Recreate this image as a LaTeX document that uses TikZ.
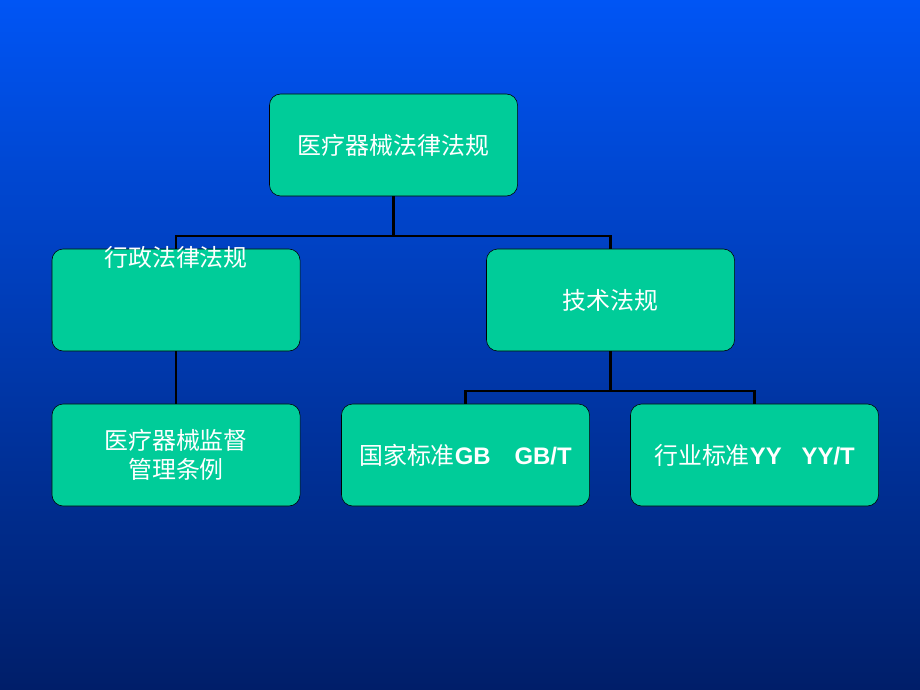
\documentclass[tikz,border=0pt]{standalone}
\usepackage{fontspec}
\setmainfont{Liberation Sans}
\newfontfamily\cjk{Noto Sans CJK SC}
\definecolor{boxgreen}{RGB}{0,204,153}
\definecolor{bgtop}{RGB}{0,85,245}
\definecolor{bgbot}{RGB}{0,30,105}
\begin{document}
\begin{tikzpicture}[x=0.025cm,y=-0.025cm,
    box/.style={draw=black,fill=boxgreen,rounded corners=8pt,minimum width=6.2cm,
      minimum height=2.55cm,text=white,align=center,
      font=\fontsize{17}{21}\selectfont\cjk},
    link/.style={line width=1.5pt,black}]
  % background
  \shade[top color=bgtop,bottom color=bgbot] (0,0) rectangle (920,690);
  \useasboundingbox (0,0) rectangle (920,690);
  % boxes
  \node[box] (root) at (393.5,145) {医疗器械法律法规};
  \node[box,text height=4.5ex] (admin) at (176,300) {行政法律法规\\[1.6ex]};
  \node[box] (tech) at (610.5,300) {技术法规};
  \node[box] (rule) at (176,455) {医疗器械监督\\管理条例};
  \node[box] (gb) at (465.5,455) {国家标准\textbf{\fontspec{Liberation Sans}GB\quad GB/T}};
  \node[box] (yy) at (754.5,455) {行业标准\textbf{\fontspec{Liberation Sans}YY\ \ \ YY/T}};
  % connectors
  \draw[link] (root.south) -- ++(0,40) -| (admin.north);
  \draw[link] (root.south) ++(0,40) -| (tech.north);
  \draw[link] (admin.south) -- (rule.north);
  \draw[link] (tech.south) -- ++(0,40) -| (gb.north);
  \draw[link] (tech.south) ++(0,40) -| (yy.north);
\end{tikzpicture}
\end{document}
